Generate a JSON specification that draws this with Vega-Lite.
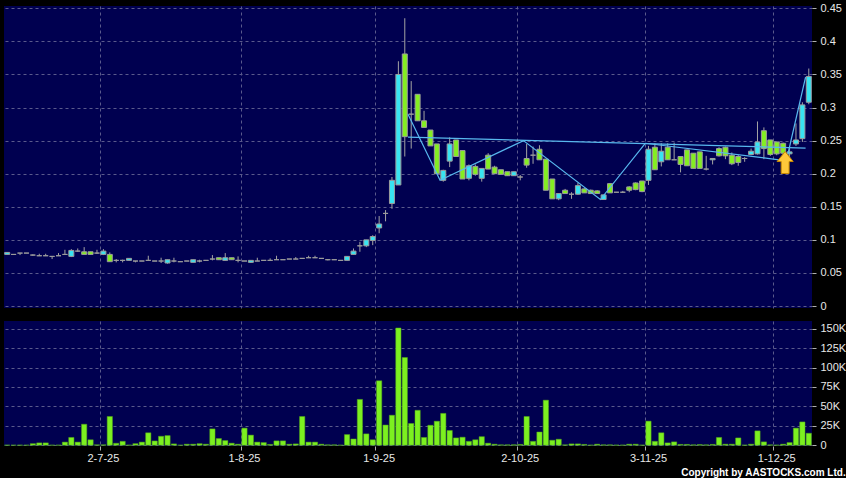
{
  "$schema": "https://vega.github.io/schema/vega-lite/v6.json",
  "background": "#000000",
  "padding": {"left": 4, "top": 2, "right": 0, "bottom": 0},
  "spacing": 9,
  "config": {
    "view": {"fill": "#000050", "stroke": null},
    "font": "Liberation Sans",
    "axis": {"labelFont": "Liberation Sans", "labelFontSize": 11, "labelColor": "#e8e8e8", "gridColor": "#5a5a8c", "gridDash": [3, 3], "gridWidth": 1, "tickColor": "#b0b0b0", "domain": false, "title": null, "labelOverlap": false}
  },
  "title": {"text": "Copyright by AASTOCKS.com Ltd.", "orient": "bottom", "anchor": "end", "fontSize": 10, "fontWeight": "bold", "color": "#ffffff", "offset": 5, "font": "Liberation Sans"},
  "datasets": {
    "px": [
      {"d":"2025-06-10","o":0.078,"h":0.081,"l":0.078,"c":0.081,"v":300},
      {"d":"2025-06-11","o":0.078,"h":0.078,"l":0.078,"c":0.078,"v":200},
      {"d":"2025-06-12","o":0.080,"h":0.080,"l":0.077,"c":0.080,"v":300},
      {"d":"2025-06-13","o":0.080,"h":0.080,"l":0.080,"c":0.080,"v":200},
      {"d":"2025-06-16","o":0.077,"h":0.078,"l":0.076,"c":0.077,"v":2000},
      {"d":"2025-06-17","o":0.076,"h":0.079,"l":0.076,"c":0.076,"v":3000},
      {"d":"2025-06-18","o":0.076,"h":0.079,"l":0.076,"c":0.076,"v":3000},
      {"d":"2025-06-19","o":0.075,"h":0.075,"l":0.071,"c":0.075,"v":200},
      {"d":"2025-06-20","o":0.076,"h":0.080,"l":0.076,"c":0.076,"v":200},
      {"d":"2025-06-23","o":0.078,"h":0.085,"l":0.078,"c":0.078,"v":4000},
      {"d":"2025-06-24","o":0.075,"h":0.086,"l":0.074,"c":0.084,"v":10000},
      {"d":"2025-06-25","o":0.083,"h":0.087,"l":0.082,"c":0.083,"v":4000},
      {"d":"2025-06-26","o":0.082,"h":0.089,"l":0.078,"c":0.078,"v":27000},
      {"d":"2025-06-27","o":0.082,"h":0.082,"l":0.078,"c":0.078,"v":7000},
      {"d":"2025-06-30","o":0.080,"h":0.085,"l":0.079,"c":0.080,"v":500},
      {"d":"2025-07-02","o":0.078,"h":0.086,"l":0.077,"c":0.083,"v":500},
      {"d":"2025-07-03","o":0.078,"h":0.081,"l":0.067,"c":0.067,"v":37000},
      {"d":"2025-07-04","o":0.069,"h":0.071,"l":0.066,"c":0.069,"v":2500},
      {"d":"2025-07-07","o":0.069,"h":0.070,"l":0.066,"c":0.069,"v":5000},
      {"d":"2025-07-08","o":0.069,"h":0.072,"l":0.069,"c":0.072,"v":300},
      {"d":"2025-07-09","o":0.068,"h":0.068,"l":0.066,"c":0.068,"v":2000},
      {"d":"2025-07-10","o":0.068,"h":0.068,"l":0.068,"c":0.068,"v":4000},
      {"d":"2025-07-11","o":0.069,"h":0.076,"l":0.069,"c":0.069,"v":16000},
      {"d":"2025-07-14","o":0.068,"h":0.068,"l":0.068,"c":0.068,"v":5500},
      {"d":"2025-07-15","o":0.068,"h":0.073,"l":0.065,"c":0.068,"v":11500},
      {"d":"2025-07-16","o":0.065,"h":0.070,"l":0.064,"c":0.070,"v":12400},
      {"d":"2025-07-17","o":0.068,"h":0.073,"l":0.066,"c":0.068,"v":1700},
      {"d":"2025-07-18","o":0.067,"h":0.067,"l":0.067,"c":0.067,"v":200},
      {"d":"2025-07-21","o":0.068,"h":0.068,"l":0.068,"c":0.068,"v":1300},
      {"d":"2025-07-22","o":0.066,"h":0.070,"l":0.066,"c":0.070,"v":1300},
      {"d":"2025-07-23","o":0.068,"h":0.070,"l":0.066,"c":0.068,"v":2000},
      {"d":"2025-07-24","o":0.069,"h":0.069,"l":0.069,"c":0.069,"v":1300},
      {"d":"2025-07-25","o":0.071,"h":0.077,"l":0.069,"c":0.071,"v":21000},
      {"d":"2025-07-28","o":0.073,"h":0.073,"l":0.070,"c":0.070,"v":8600},
      {"d":"2025-07-29","o":0.069,"h":0.080,"l":0.069,"c":0.073,"v":6000},
      {"d":"2025-07-30","o":0.073,"h":0.073,"l":0.070,"c":0.070,"v":2600},
      {"d":"2025-07-31","o":0.069,"h":0.075,"l":0.066,"c":0.069,"v":1300},
      {"d":"2025-08-01","o":0.068,"h":0.068,"l":0.068,"c":0.068,"v":22000},
      {"d":"2025-08-04","o":0.066,"h":0.069,"l":0.065,"c":0.069,"v":13000},
      {"d":"2025-08-05","o":0.068,"h":0.073,"l":0.068,"c":0.068,"v":4000},
      {"d":"2025-08-06","o":0.069,"h":0.069,"l":0.069,"c":0.069,"v":3400},
      {"d":"2025-08-07","o":0.069,"h":0.072,"l":0.069,"c":0.069,"v":1000},
      {"d":"2025-08-08","o":0.070,"h":0.076,"l":0.070,"c":0.070,"v":5600},
      {"d":"2025-08-11","o":0.070,"h":0.070,"l":0.070,"c":0.070,"v":5600},
      {"d":"2025-08-12","o":0.071,"h":0.071,"l":0.071,"c":0.071,"v":1300},
      {"d":"2025-08-13","o":0.071,"h":0.074,"l":0.071,"c":0.071,"v":1700},
      {"d":"2025-08-14","o":0.072,"h":0.072,"l":0.072,"c":0.072,"v":37000},
      {"d":"2025-08-15","o":0.073,"h":0.076,"l":0.073,"c":0.073,"v":4000},
      {"d":"2025-08-18","o":0.073,"h":0.076,"l":0.073,"c":0.073,"v":4000},
      {"d":"2025-08-19","o":0.072,"h":0.072,"l":0.072,"c":0.072,"v":1300},
      {"d":"2025-08-20","o":0.070,"h":0.071,"l":0.069,"c":0.070,"v":500},
      {"d":"2025-08-21","o":0.070,"h":0.070,"l":0.070,"c":0.070,"v":500},
      {"d":"2025-08-22","o":0.069,"h":0.069,"l":0.069,"c":0.069,"v":200},
      {"d":"2025-08-25","o":0.069,"h":0.075,"l":0.069,"c":0.075,"v":13700},
      {"d":"2025-08-26","o":0.078,"h":0.087,"l":0.078,"c":0.083,"v":8000},
      {"d":"2025-08-27","o":0.091,"h":0.097,"l":0.082,"c":0.091,"v":59000},
      {"d":"2025-08-28","o":0.091,"h":0.100,"l":0.089,"c":0.100,"v":14600},
      {"d":"2025-08-29","o":0.099,"h":0.107,"l":0.092,"c":0.105,"v":7000},
      {"d":"2025-09-01","o":0.118,"h":0.136,"l":0.110,"c":0.124,"v":83000},
      {"d":"2025-09-02","o":0.140,"h":0.145,"l":0.128,"c":0.140,"v":26000},
      {"d":"2025-09-03","o":0.155,"h":0.195,"l":0.147,"c":0.190,"v":38600},
      {"d":"2025-09-04","o":0.183,"h":0.370,"l":0.183,"c":0.350,"v":151000},
      {"d":"2025-09-05","o":0.381,"h":0.435,"l":0.226,"c":0.256,"v":113000},
      {"d":"2025-09-08","o":0.290,"h":0.340,"l":0.238,"c":0.290,"v":28000},
      {"d":"2025-09-09","o":0.320,"h":0.320,"l":0.280,"c":0.280,"v":45000},
      {"d":"2025-09-10","o":0.280,"h":0.295,"l":0.270,"c":0.270,"v":10000},
      {"d":"2025-09-11","o":0.266,"h":0.266,"l":0.242,"c":0.242,"v":25700},
      {"d":"2025-09-12","o":0.245,"h":0.245,"l":0.200,"c":0.200,"v":30900},
      {"d":"2025-09-15","o":0.190,"h":0.206,"l":0.188,"c":0.205,"v":41000},
      {"d":"2025-09-16","o":0.219,"h":0.255,"l":0.210,"c":0.245,"v":19000},
      {"d":"2025-09-17","o":0.251,"h":0.251,"l":0.226,"c":0.226,"v":9400},
      {"d":"2025-09-18","o":0.235,"h":0.235,"l":0.192,"c":0.192,"v":10300},
      {"d":"2025-09-19","o":0.193,"h":0.214,"l":0.190,"c":0.212,"v":5000},
      {"d":"2025-09-22","o":0.211,"h":0.214,"l":0.197,"c":0.199,"v":7000},
      {"d":"2025-09-23","o":0.193,"h":0.208,"l":0.188,"c":0.208,"v":11000},
      {"d":"2025-09-24","o":0.228,"h":0.231,"l":0.207,"c":0.207,"v":2600},
      {"d":"2025-09-25","o":0.210,"h":0.212,"l":0.200,"c":0.200,"v":1300},
      {"d":"2025-09-26","o":0.206,"h":0.206,"l":0.199,"c":0.199,"v":500},
      {"d":"2025-09-29","o":0.203,"h":0.203,"l":0.197,"c":0.197,"v":500},
      {"d":"2025-09-30","o":0.197,"h":0.203,"l":0.197,"c":0.203,"v":500},
      {"d":"2025-10-02","o":0.195,"h":0.198,"l":0.190,"c":0.195,"v":1000},
      {"d":"2025-10-03","o":0.223,"h":0.245,"l":0.209,"c":0.213,"v":37000},
      {"d":"2025-10-06","o":0.228,"h":0.241,"l":0.215,"c":0.228,"v":5000},
      {"d":"2025-10-08","o":0.237,"h":0.243,"l":0.221,"c":0.221,"v":17000},
      {"d":"2025-10-09","o":0.222,"h":0.222,"l":0.175,"c":0.175,"v":58000},
      {"d":"2025-10-10","o":0.192,"h":0.192,"l":0.162,"c":0.162,"v":6400},
      {"d":"2025-10-13","o":0.162,"h":0.170,"l":0.160,"c":0.170,"v":7700},
      {"d":"2025-10-14","o":0.175,"h":0.177,"l":0.170,"c":0.170,"v":500},
      {"d":"2025-10-15","o":0.169,"h":0.172,"l":0.162,"c":0.169,"v":1700},
      {"d":"2025-10-16","o":0.169,"h":0.186,"l":0.168,"c":0.182,"v":1700},
      {"d":"2025-10-17","o":0.177,"h":0.178,"l":0.171,"c":0.171,"v":1000},
      {"d":"2025-10-20","o":0.175,"h":0.176,"l":0.170,"c":0.170,"v":300},
      {"d":"2025-10-21","o":0.174,"h":0.175,"l":0.170,"c":0.170,"v":1300},
      {"d":"2025-10-22","o":0.161,"h":0.168,"l":0.161,"c":0.168,"v":500},
      {"d":"2025-10-23","o":0.185,"h":0.186,"l":0.171,"c":0.171,"v":500},
      {"d":"2025-10-24","o":0.172,"h":0.172,"l":0.172,"c":0.172,"v":300},
      {"d":"2025-10-27","o":0.172,"h":0.174,"l":0.171,"c":0.172,"v":300},
      {"d":"2025-10-28","o":0.180,"h":0.181,"l":0.172,"c":0.175,"v":1300},
      {"d":"2025-10-30","o":0.186,"h":0.187,"l":0.175,"c":0.176,"v":1300},
      {"d":"2025-10-31","o":0.189,"h":0.189,"l":0.172,"c":0.173,"v":300},
      {"d":"2025-11-03","o":0.190,"h":0.242,"l":0.183,"c":0.237,"v":31000},
      {"d":"2025-11-04","o":0.240,"h":0.246,"l":0.206,"c":0.206,"v":5000},
      {"d":"2025-11-05","o":0.218,"h":0.246,"l":0.211,"c":0.234,"v":16000},
      {"d":"2025-11-06","o":0.240,"h":0.246,"l":0.221,"c":0.221,"v":3000},
      {"d":"2025-11-07","o":0.221,"h":0.247,"l":0.221,"c":0.221,"v":4300},
      {"d":"2025-11-10","o":0.226,"h":0.226,"l":0.202,"c":0.214,"v":1000},
      {"d":"2025-11-11","o":0.236,"h":0.236,"l":0.212,"c":0.212,"v":1000},
      {"d":"2025-11-12","o":0.231,"h":0.231,"l":0.208,"c":0.208,"v":500},
      {"d":"2025-11-13","o":0.233,"h":0.233,"l":0.208,"c":0.208,"v":800},
      {"d":"2025-11-14","o":0.207,"h":0.227,"l":0.205,"c":0.207,"v":500},
      {"d":"2025-11-17","o":0.221,"h":0.223,"l":0.214,"c":0.223,"v":1000},
      {"d":"2025-11-18","o":0.238,"h":0.240,"l":0.226,"c":0.227,"v":10000},
      {"d":"2025-11-19","o":0.240,"h":0.241,"l":0.222,"c":0.227,"v":1300},
      {"d":"2025-11-20","o":0.228,"h":0.232,"l":0.213,"c":0.215,"v":1300},
      {"d":"2025-11-21","o":0.226,"h":0.228,"l":0.212,"c":0.217,"v":9400},
      {"d":"2025-11-24","o":0.223,"h":0.225,"l":0.218,"c":0.223,"v":300},
      {"d":"2025-11-25","o":0.229,"h":0.238,"l":0.228,"c":0.234,"v":1300},
      {"d":"2025-11-26","o":0.230,"h":0.279,"l":0.229,"c":0.248,"v":18500},
      {"d":"2025-11-27","o":0.265,"h":0.270,"l":0.222,"c":0.238,"v":4300},
      {"d":"2025-11-28","o":0.251,"h":0.251,"l":0.227,"c":0.229,"v":500},
      {"d":"2025-12-01","o":0.248,"h":0.248,"l":0.228,"c":0.230,"v":300},
      {"d":"2025-12-02","o":0.246,"h":0.247,"l":0.229,"c":0.231,"v":1300},
      {"d":"2025-12-03","o":0.230,"h":0.240,"l":0.222,"c":0.233,"v":3400},
      {"d":"2025-12-04","o":0.245,"h":0.276,"l":0.242,"c":0.251,"v":22000},
      {"d":"2025-12-05","o":0.253,"h":0.308,"l":0.248,"c":0.304,"v":30000},
      {"d":"2025-12-08","o":0.308,"h":0.359,"l":0.305,"c":0.347,"v":15400}
    ],
    "neck": [
      {"d":"2025-09-08","p":0.2554},
      {"d":"2025-12-08","p":0.2388}
    ],
    "zig": [
      {"d":"2025-09-08","p":0.290},
      {"d":"2025-09-15","p":0.190},
      {"d":"2025-10-03","p":0.250},
      {"d":"2025-10-22","p":0.161},
      {"d":"2025-11-03","p":0.246},
      {"d":"2025-12-03","p":0.2196},
      {"d":"2025-12-08","p":0.346}
    ],
    "arrow": [
      {"d":"2025-12-02","p":0.2169}
    ]
  },
  "vconcat": [
    {
      "width": 808,
      "height": 302,
      "layer": [
        {
          "data": {"name": "px"},
          "mark": {"type": "rule", "color": "#a4a4a4", "strokeWidth": 1},
          "encoding": {
            "x": {"field": "d", "type": "ordinal", "scale": {"type": "band", "paddingInner": 0, "paddingOuter": 0},
              "axis": {"values": ["2025-07-02","2025-08-01","2025-09-01","2025-10-02","2025-11-03","2025-12-01"], "bandPosition": 0, "grid": true, "labels": false, "ticks": false, "domain": false}},
            "y": {"field": "l", "type": "quantitative", "scale": {"domain": [-0.003, 0.4535], "nice": false, "zero": false},
              "axis": {"orient": "right", "values": [0,0.05,0.1,0.15,0.2,0.25,0.3,0.35,0.4,0.45], "labelExpr": "format(datum.value, '.2~f')", "grid": true, "tickSize": 4, "labelPadding": 4, "labelOverlap": false, "labelSeparation": 0}},
            "y2": {"field": "h"}
          }
        },
        {
          "data": {"name": "px"},
          "mark": {"type": "bar", "width": {"band": 0.78}, "stroke": "#9c9c9c", "strokeWidth": 1},
          "encoding": {
            "x": {"field": "d", "type": "ordinal"},
            "y": {"field": "o", "type": "quantitative",
              "axis": {"orient": "right", "values": [0,0.05,0.1,0.15,0.2,0.25,0.3,0.35,0.4,0.45], "labelExpr": "format(datum.value, '.2~f')", "grid": true, "tickSize": 4, "labelPadding": 4, "labelOverlap": false, "labelSeparation": 0}},
            "y2": {"field": "c"},
            "color": {"condition": [{"test": "datum.c > datum.o", "value": "#38e4f2"}, {"test": "datum.c < datum.o", "value": "#84ee22"}], "value": "#9c9c9c"}
          }
        },
        {
          "data": {"name": "neck"},
          "mark": {"type": "line", "color": "#58b8ee", "strokeWidth": 1.2},
          "encoding": {
            "x": {"field": "d", "type": "ordinal", "bandPosition": 0},
            "y": {"field": "p", "type": "quantitative",
              "axis": {"orient": "right", "values": [0,0.05,0.1,0.15,0.2,0.25,0.3,0.35,0.4,0.45], "labelExpr": "format(datum.value, '.2~f')", "grid": true, "tickSize": 4, "labelPadding": 4, "labelOverlap": false, "labelSeparation": 0}}
          }
        },
        {
          "data": {"name": "zig"},
          "mark": {"type": "line", "color": "#58b8ee", "strokeWidth": 1.2},
          "encoding": {
            "x": {"field": "d", "type": "ordinal", "bandPosition": 0},
            "y": {"field": "p", "type": "quantitative",
              "axis": {"orient": "right", "values": [0,0.05,0.1,0.15,0.2,0.25,0.3,0.35,0.4,0.45], "labelExpr": "format(datum.value, '.2~f')", "grid": true, "tickSize": 4, "labelPadding": 4, "labelOverlap": false, "labelSeparation": 0}}
          }
        },
        {
          "data": {"name": "arrow"},
          "mark": {"type": "point", "shape": "M0,-1L0.73,-0.09L0.36,-0.09L0.36,1L-0.36,1L-0.36,-0.09L-0.73,-0.09Z", "size": 484, "filled": true, "color": "#ffc83a", "stroke": "#c98a00", "strokeWidth": 1, "opacity": 1, "xOffset": 2},
          "encoding": {
            "x": {"field": "d", "type": "ordinal"},
            "y": {"field": "p", "type": "quantitative",
              "axis": {"orient": "right", "values": [0,0.05,0.1,0.15,0.2,0.25,0.3,0.35,0.4,0.45], "labelExpr": "format(datum.value, '.2~f')", "grid": true, "tickSize": 4, "labelPadding": 4, "labelOverlap": false, "labelSeparation": 0}}
          }
        }
      ]
    },
    {
      "width": 808,
      "height": 125,
      "data": {"name": "px"},
      "mark": {"type": "bar", "width": {"band": 0.82}, "color": "#7cf020", "stroke": "#55a818", "strokeWidth": 0.5},
      "encoding": {
        "x": {"field": "d", "type": "ordinal", "scale": {"type": "band", "paddingInner": 0, "paddingOuter": 0},
          "axis": {"values": ["2025-07-02","2025-08-01","2025-09-01","2025-10-02","2025-11-03","2025-12-01"], "bandPosition": 0, "grid": true, "labelAngle": 0, "labelExpr": "utcFormat(toDate(datum.value), '%-d-%-m-%y')", "tickSize": 4, "labelPadding": 2, "domain": false}},
        "y": {"field": "v", "type": "quantitative", "scale": {"domain": [-1000, 160000], "nice": false, "zero": false},
          "axis": {"orient": "right", "values": [0,25000,50000,75000,100000,125000,150000], "labelExpr": "datum.value == 0 ? '0' : (datum.value / 1000) + 'K'", "grid": true, "tickSize": 4, "labelPadding": 4, "labelOverlap": false}},
        "y2": {"datum": 0}
      }
    }
  ]
}
